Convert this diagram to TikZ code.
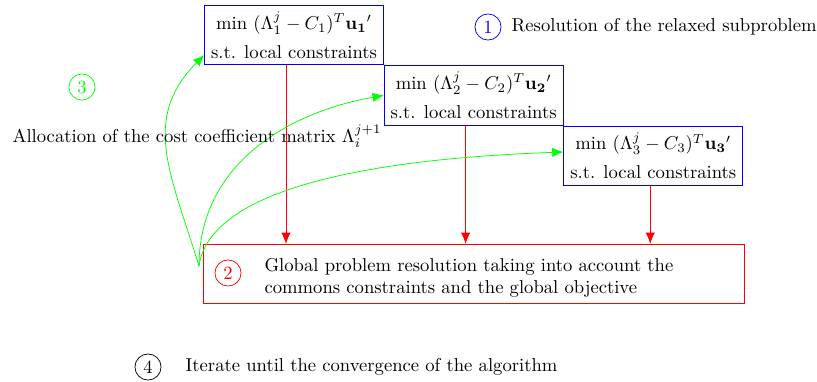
\documentclass[tikz,border=0pt]{standalone}
\usepackage{amsmath, amssymb}
\usetikzlibrary{arrows.meta, positioning}

\begin{document}
\begin{tikzpicture}[x=0.5367pt, y=0.5367pt,
    subpb/.style={draw=blue, align=center, minimum width=96pt, minimum height=32pt},
    num/.style={circle, draw, inner sep=0pt, minimum size=14pt},
    down/.style={red, -{Latex[length=6pt, width=5pt]}},
    back/.style={green, -{Latex[length=6pt, width=5pt]}}]
      \useasboundingbox (0,0) rectangle (817,-381);
      % local subproblems
      \node[subpb] (pb1) at (294,-35) {min $(\Lambda_1^j - C_1)^T \mathbf{u_1}'$\\[3.5pt] s.t. local constraints};
      \node[subpb, below right=0pt and 0pt of pb1] (pb2) {min $(\Lambda_2^j - C_2)^T \mathbf{u_2}'$\\[3.5pt] s.t. local constraints};
      \node[subpb, below right=0pt and 0pt of pb2] (pb3) {min $(\Lambda_3^j - C_3)^T \mathbf{u_3}'$\\[3.5pt] s.t. local constraints};
      % global problem
      \node[draw=red, minimum width=290pt, minimum height=32pt] (glob) at (474,-274) {};
      \node[num, red] (two) at (228,-273) {2};
      \node[anchor=west, align=left] (globtxt) at (258,-278) {Global problem resolution taking into account the\\commons constraints and the global objective};
      \draw[down] ([xshift=-4.3pt]pb1.south) -- ([xshift=-4.3pt]pb1.south |- glob.north);
      \draw[down] ([xshift=-4.3pt]pb2.south) -- ([xshift=-4.3pt]pb2.south |- glob.north);
      \draw[down] ([xshift=-1.6pt]pb3.south) -- ([xshift=-1.6pt]pb3.south |- glob.north);
      % allocation back to the subproblems
      \coordinate (src) at (199,-266);
      \draw[back] (src) .. controls +(107:95) and +(225:90) .. ([yshift=5.4pt]pb1.south west);
      \draw[back] (src) .. controls +(90:100) and +(190:100) .. (pb2.west);
      \draw[back] (src) .. controls +(82:85) and +(182:165) .. ([yshift=2pt]pb3.west);
      % steps
      \node[num, blue] (one) at (488,-27) {1};
      \node[right=2pt of one] (onetxt) {Resolution of the relaxed subproblem};
      \node[num, green] (three) at (82,-87) {3};
      \node[anchor=base west] (alloc) at (6,-142) {Allocation of the cost coefficient matrix $\Lambda_i^{j+1}$};
      \node[num] (four) at (148,-367) {4};
      \node[right=9.5pt of four] (fourtxt) {Iterate until the convergence of the algorithm};
\end{tikzpicture}
\end{document}
